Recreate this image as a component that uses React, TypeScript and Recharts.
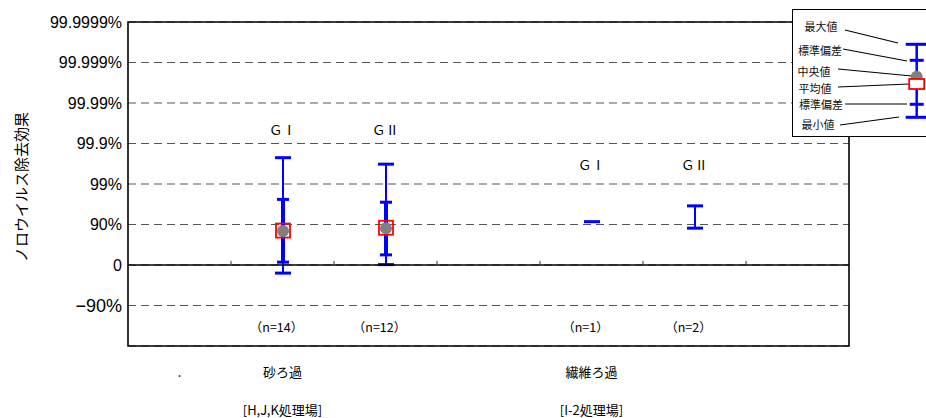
import React from 'react';
import {
  ComposedChart,
  Bar,
  XAxis,
  YAxis,
  CartesianGrid,
  ReferenceLine,
  ReferenceDot,
  ReferenceArea,
  Label,
} from 'recharts';

// one slot per band on the x axis; empty slots keep the spacing of the original
const categories = ['pad-left', 'sand-GI', 'sand-GII', 'pad-mid', 'fiber-GI', 'fiber-GII', 'pad-right'];
const groupLabels = ['', 'ＧⅠ', 'ＧⅡ', '', 'ＧⅠ', 'ＧⅡ', ''];
const sampleCounts = [null, 14, 12, null, 1, 2, null];

// log removal values (1 = 90%, 2 = 99%, ...)
const maxValues = [null, 2.65, 2.49, null, 1.07, 1.46, null];
const upperSdValues = [null, 1.62, 1.55, null, null, null, null];
const medianValues = [null, 0.84, 0.91, null, null, null, null];
const meanValues = [null, 0.85, 0.92, null, null, null, null];
const lowerSdValues = [null, 0.07, 0.25, null, null, null, null];
const minValues = [null, -0.2, 0.01, null, 1.07, 0.91, null];

const processLabels = ['.', '砂ろ過', '', '', '繊維ろ過', '', ''];
const plantLabels = ['', '[H,J,K処理場]', '', '', '[I-2処理場]', '', ''];

const yTicks = [-2, -1, 0, 1, 2, 3, 4, 5, 6];
const yTickLabels = ['', '−90%', '0', '90%', '99%', '99.9%', '99.99%', '99.999%', '99.9999%'];

const legendLabels = ['最大値', '標準偏差', '中央値', '平均値', '標準偏差', '最小値'];

const BLUE = '#0000ff';
const RED = '#ff0000';
const GREY = '#808080';
const JP = '"Noto Sans CJK JP", sans-serif';
const SANS = '"Liberation Sans", Arial, sans-serif';

const data = categories.map((id, i) => ({
  id,
  slot: i,
  max: maxValues[i],
  usd: upperSdValues[i],
  median: medianValues[i],
  mean: meanValues[i],
  lsd: lowerSdValues[i],
  min: minValues[i],
}));

const slots = categories.map((_, i) => i);

const BoxWhisker = (props: any) => {
  const { x, y, width, height, payload } = props;
  if (!payload || payload.max == null || payload.min == null) return <g />;
  const cx = x + width / 2;
  const top = Math.min(y, y + height);
  const bottom = Math.max(y, y + height);
  const span = payload.max - payload.min;
  const toY = (v: number) => (span === 0 ? top : top + ((payload.max - v) / span) * (bottom - top));
  const cap = 8;
  const sdCap = 6;
  return (
    <g>
      {span > 0 && <line x1={cx} x2={cx} y1={top} y2={bottom} stroke={BLUE} strokeWidth={2} />}
      {payload.usd != null && payload.lsd != null && (
        <line x1={cx} x2={cx} y1={toY(payload.usd)} y2={toY(payload.lsd)} stroke={BLUE} strokeWidth={4} />
      )}
      <line x1={cx - cap} x2={cx + cap} y1={top} y2={top} stroke={BLUE} strokeWidth={3} />
      {span > 0 && <line x1={cx - cap} x2={cx + cap} y1={bottom} y2={bottom} stroke={BLUE} strokeWidth={3} />}
      {payload.usd != null && (
        <line x1={cx - sdCap} x2={cx + sdCap} y1={toY(payload.usd)} y2={toY(payload.usd)} stroke={BLUE} strokeWidth={3} />
      )}
      {payload.lsd != null && (
        <line x1={cx - sdCap} x2={cx + sdCap} y1={toY(payload.lsd)} y2={toY(payload.lsd)} stroke={BLUE} strokeWidth={3} />
      )}
      {payload.mean != null && (
        <rect x={cx - 7} y={toY(payload.mean) - 7} width={14} height={14} fill="none" stroke={RED} strokeWidth={1.8} />
      )}
      {payload.median != null && <circle cx={cx} cy={toY(payload.median)} r={6} fill={GREY} />}
    </g>
  );
};

const CategoryTick = (props: any) => {
  const { x, y, payload } = props;
  const i = payload.value;
  return (
    <g fontFamily={JP} fontSize={13} fill="#000">
      <text x={x} y={y + 25} textAnchor="middle" dominantBaseline="central">
        {processLabels[i]}
      </text>
      <text x={x} y={y + 63} textAnchor="middle" dominantBaseline="central">
        {plantLabels[i]}
      </text>
    </g>
  );
};

const YTick = (props: any) => {
  const { x, y, payload } = props;
  const i = yTicks.indexOf(payload.value);
  const big = payload.value < 0;
  return (
    <text x={x} y={y} textAnchor="end" dominantBaseline="central" fontFamily={SANS} fontSize={big ? 18 : 16} fill="#000">
      {yTickLabels[i]}
    </text>
  );
};

const Legend = () => {
  const textPos = [
    [29, 17],
    [28, 41],
    [22, 62],
    [23, 79],
    [29, 95],
    [26, 115],
  ];
  const leaders = [
    [53, 21, 106, 34],
    [51, 40, 115, 52],
    [46, 60, 120, 67],
    [46, 78, 117, 75],
    [53, 95, 115, 95],
    [48, 116, 107, 108],
  ];
  const cx = 124.7;
  return (
    <div
      style={{
        position: 'absolute',
        left: 792,
        top: 9,
        width: 160,
        height: 128,
        border: '1.5px solid #000',
        background: '#fff',
        boxSizing: 'border-box',
      }}
    >
      <svg width={160} height={128} style={{ position: 'absolute', left: -1.5, top: -1.5 }}>
        {legendLabels.map((t, i) => (
          <text
            key={i}
            x={textPos[i][0]}
            y={textPos[i][1]}
            textAnchor="middle"
            dominantBaseline="central"
            fontFamily={JP}
            fontSize={11}
            fill="#111"
          >
            {t}
          </text>
        ))}
        {leaders.map((l, i) => (
          <line key={i} x1={l[0]} y1={l[1]} x2={l[2]} y2={l[3]} stroke="#000" strokeWidth={1.2} />
        ))}
        <line x1={cx} x2={cx} y1={35.3} y2={108.3} stroke={BLUE} strokeWidth={2.5} />
        <line x1={cx - 11} x2={cx + 11} y1={35.3} y2={35.3} stroke={BLUE} strokeWidth={3} />
        <line x1={cx - 7} x2={cx + 7} y1={51.3} y2={51.3} stroke={BLUE} strokeWidth={3} />
        <line x1={cx - 7} x2={cx + 7} y1={95.3} y2={95.3} stroke={BLUE} strokeWidth={3} />
        <line x1={cx - 11} x2={cx + 11} y1={108.3} y2={108.3} stroke={BLUE} strokeWidth={3} />
        <circle cx={cx} cy={67.7} r={6} fill={GREY} />
        <rect x={cx - 7.5} y={70} width={15} height={10} fill="#fff" stroke={RED} strokeWidth={1.8} />
      </svg>
    </div>
  );
};

export default function App() {
  const sandLabelLevel = 3.33;
  const fiberLabelLevel = 2.47;
  const countLabelLevel = -1.54;
  const lo = -0.5;
  const hi = categories.length - 0.5;
  return (
    <div style={{ position: 'absolute', left: 0, top: 0, width: 926, height: 418, overflow: 'hidden', background: '#fff' }}>
      <ComposedChart width={926} height={418} data={data} margin={{ top: 22, right: 77, bottom: 0, left: 0 }}>
        <CartesianGrid vertical={false} stroke="#555" strokeDasharray="8 5" />
        <XAxis
          dataKey="slot"
          type="number"
          domain={[lo, hi]}
          allowDataOverflow
          ticks={slots}
          height={72}
          axisLine={false}
          tickLine={false}
          tickSize={0}
          tickMargin={0}
          interval={0}
          tick={<CategoryTick />}
        />
        <YAxis
          type="number"
          domain={[-2, 6]}
          ticks={yTicks}
          width={128}
          axisLine={false}
          tickLine={false}
          tickSize={4}
          tickMargin={2}
          tick={<YTick />}
        >
          <Label
            content={({ viewBox }: any) => {
              const cy = viewBox.y + viewBox.height / 2 + 3;
              return (
                <text
                  x={20}
                  y={cy}
                  transform={`rotate(-90, 20, ${cy})`}
                  textAnchor="middle"
                  dominantBaseline="central"
                  fontFamily={JP}
                  fontSize={15}
                  fill="#000"
                >
                  ノロウイルス除去効果
                </text>
              );
            }}
          />
        </YAxis>
        <ReferenceLine y={0} stroke="#000" strokeWidth={1.5} />
        {slots.slice(1).map((s) => (
          <ReferenceLine
            key={`edge-${s}`}
            segment={[
              { x: s - 0.5, y: 0 },
              { x: s - 0.5, y: 0.1 },
            ]}
            stroke="#333"
            strokeWidth={1}
          />
        ))}
        <ReferenceArea
          x1={lo}
          x2={hi}
          y1={-2}
          y2={6}
          fill="none"
          fillOpacity={0}
          stroke="#000"
          strokeWidth={1.6}
          ifOverflow="visible"
        />
        <Bar
          dataKey={(d: any) => (d.max == null ? null : [d.min, d.max])}
          barSize={16}
          shape={<BoxWhisker />}
          isAnimationActive={false}
        />
        {slots.map((s) =>
          groupLabels[s] ? (
            <ReferenceDot
              key={`g-${s}`}
              x={s}
              y={s < 3 ? sandLabelLevel : fiberLabelLevel}
              r={0}
              stroke="none"
              fill="none"
              label={{ value: groupLabels[s], position: 'center', fontFamily: JP, fontSize: 13.5, fill: '#000' }}
            />
          ) : null
        )}
        {slots.map((s) =>
          sampleCounts[s] != null ? (
            <ReferenceDot
              key={`n-${s}`}
              x={s}
              y={countLabelLevel}
              r={0}
              stroke="none"
              fill="none"
              label={{ value: `（n=${sampleCounts[s]}）`, position: 'center', fontFamily: JP, fontSize: 12.5, fill: '#000', dx: -6 }}
            />
          ) : null
        )}
      </ComposedChart>
      <Legend />
    </div>
  );
}
